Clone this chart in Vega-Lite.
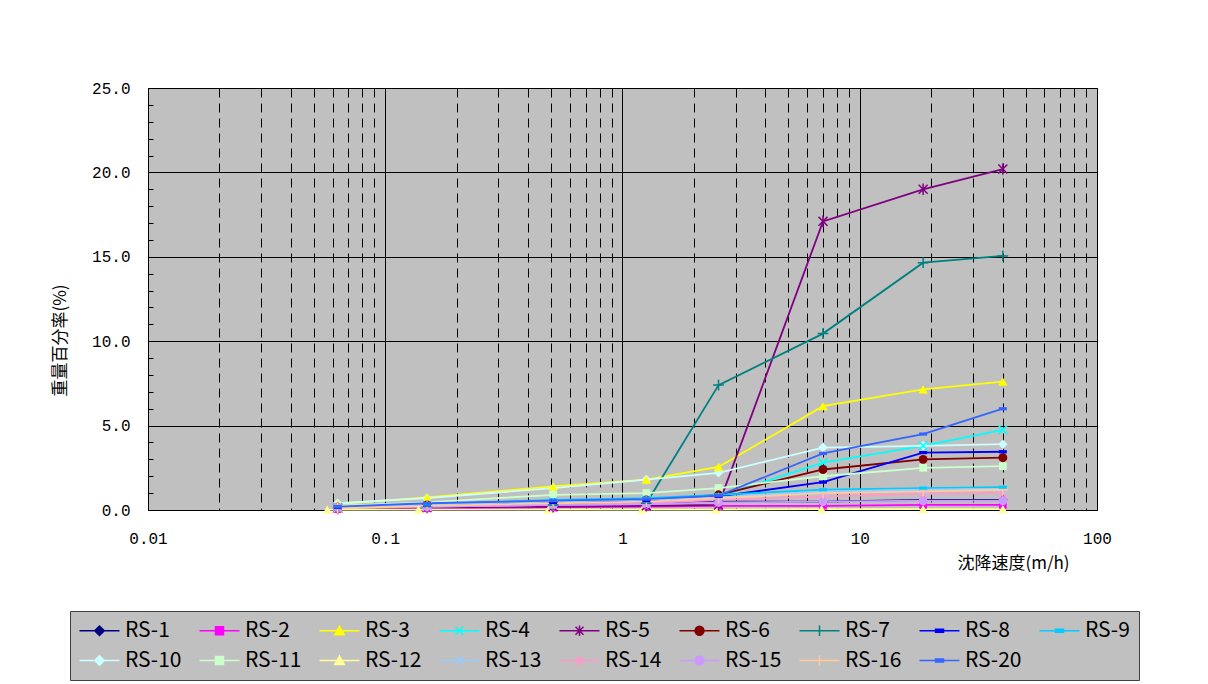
{
  "$schema": "https://vega.github.io/schema/vega-lite/v6.json",
  "width": 949,
  "height": 422,
  "autosize": "none",
  "padding": {"left": 148, "top": 88, "right": 111, "bottom": 174},
  "background": "#FFFFFF",
  "config": {
    "font": "Noto Sans CJK JP",
    "view": {"fill": "#C0C0C0", "stroke": "#000000", "strokeWidth": 1},
    "legend": {
      "title": null, "orient": "none", "legendX": -78, "legendY": 523,
      "direction": "horizontal",
      "columns": 9, "gridAlign": "all", "columnPadding": 14, "rowPadding": 8,
      "padding": 9, "fillColor": "#C0C0C0", "strokeColor": "#404040",
      "labelFont": "Noto Sans CJK JP", "labelFontSize": 21, "labelColor": "#000000",
      "labelOffset": 25, "symbolSize": 64, "symbolStrokeWidth": 1.5, "symbolOpacity": 1
    }
  },
  "data": {"values": [
    {"s":"RS-1","v":0.063,"w":0.1},{"s":"RS-1","v":0.15,"w":0.2},{"s":"RS-1","v":0.51,"w":0.35},{"s":"RS-1","v":1.26,"w":0.4},{"s":"RS-1","v":2.54,"w":0.5},{"s":"RS-1","v":7.0,"w":0.5},{"s":"RS-1","v":18.5,"w":0.6},{"s":"RS-1","v":40.1,"w":0.6},
    {"s":"RS-2","v":0.063,"w":0.05},{"s":"RS-2","v":0.15,"w":0.1},{"s":"RS-2","v":0.51,"w":0.15},{"s":"RS-2","v":1.26,"w":0.2},{"s":"RS-2","v":2.54,"w":0.25},{"s":"RS-2","v":7.0,"w":0.25},{"s":"RS-2","v":18.5,"w":0.3},{"s":"RS-2","v":40.1,"w":0.3},
    {"s":"RS-3","v":0.063,"w":0.35},{"s":"RS-3","v":0.15,"w":0.75},{"s":"RS-3","v":0.51,"w":1.4},{"s":"RS-3","v":1.26,"w":1.8},{"s":"RS-3","v":2.54,"w":2.55},{"s":"RS-3","v":7.0,"w":6.15},{"s":"RS-3","v":18.5,"w":7.15},{"s":"RS-3","v":40.1,"w":7.6},
    {"s":"RS-4","v":0.063,"w":0.15},{"s":"RS-4","v":0.15,"w":0.3},{"s":"RS-4","v":0.51,"w":0.5},{"s":"RS-4","v":1.26,"w":0.6},{"s":"RS-4","v":2.54,"w":0.8},{"s":"RS-4","v":7.0,"w":2.8},{"s":"RS-4","v":18.5,"w":3.8},{"s":"RS-4","v":40.1,"w":4.75},
    {"s":"RS-5","v":0.063,"w":0.1},{"s":"RS-5","v":0.15,"w":0.15},{"s":"RS-5","v":0.51,"w":0.2},{"s":"RS-5","v":1.26,"w":0.25},{"s":"RS-5","v":2.54,"w":0.3},{"s":"RS-5","v":7.0,"w":17.1},{"s":"RS-5","v":18.5,"w":19.0},{"s":"RS-5","v":40.1,"w":20.2},
    {"s":"RS-6","v":0.063,"w":0.15},{"s":"RS-6","v":0.15,"w":0.3},{"s":"RS-6","v":0.51,"w":0.45},{"s":"RS-6","v":1.26,"w":0.6},{"s":"RS-6","v":2.54,"w":0.9},{"s":"RS-6","v":7.0,"w":2.4},{"s":"RS-6","v":18.5,"w":3.0},{"s":"RS-6","v":40.1,"w":3.1},
    {"s":"RS-7","v":0.063,"w":0.1},{"s":"RS-7","v":0.15,"w":0.2},{"s":"RS-7","v":0.51,"w":0.3},{"s":"RS-7","v":1.26,"w":0.4},{"s":"RS-7","v":2.54,"w":7.4},{"s":"RS-7","v":7.0,"w":10.45},{"s":"RS-7","v":18.5,"w":14.65},{"s":"RS-7","v":40.1,"w":15.05},
    {"s":"RS-8","v":0.063,"w":0.15},{"s":"RS-8","v":0.15,"w":0.3},{"s":"RS-8","v":0.51,"w":0.45},{"s":"RS-8","v":1.26,"w":0.55},{"s":"RS-8","v":2.54,"w":0.8},{"s":"RS-8","v":7.0,"w":1.65},{"s":"RS-8","v":18.5,"w":3.4},{"s":"RS-8","v":40.1,"w":3.45},
    {"s":"RS-9","v":0.063,"w":0.2},{"s":"RS-9","v":0.15,"w":0.35},{"s":"RS-9","v":0.51,"w":0.6},{"s":"RS-9","v":1.26,"w":0.7},{"s":"RS-9","v":2.54,"w":0.9},{"s":"RS-9","v":7.0,"w":1.2},{"s":"RS-9","v":18.5,"w":1.3},{"s":"RS-9","v":40.1,"w":1.35},
    {"s":"RS-10","v":0.063,"w":0.4},{"s":"RS-10","v":0.15,"w":0.7},{"s":"RS-10","v":0.51,"w":1.3},{"s":"RS-10","v":1.26,"w":1.8},{"s":"RS-10","v":2.54,"w":2.2},{"s":"RS-10","v":7.0,"w":3.7},{"s":"RS-10","v":18.5,"w":3.8},{"s":"RS-10","v":40.1,"w":3.9},
    {"s":"RS-11","v":0.063,"w":0.25},{"s":"RS-11","v":0.15,"w":0.45},{"s":"RS-11","v":0.51,"w":0.9},{"s":"RS-11","v":1.26,"w":1.0},{"s":"RS-11","v":2.54,"w":1.3},{"s":"RS-11","v":7.0,"w":2.0},{"s":"RS-11","v":18.5,"w":2.5},{"s":"RS-11","v":40.1,"w":2.6},
    {"s":"RS-12","v":0.057,"w":0.02},{"s":"RS-12","v":0.138,"w":0.02},{"s":"RS-12","v":0.487,"w":0.02},{"s":"RS-12","v":1.21,"w":0.02},{"s":"RS-12","v":2.48,"w":0.02},{"s":"RS-12","v":6.9,"w":0.05},{"s":"RS-12","v":18.5,"w":0.05},{"s":"RS-12","v":40.1,"w":0.05},
    {"s":"RS-13","v":0.063,"w":0.15},{"s":"RS-13","v":0.15,"w":0.3},{"s":"RS-13","v":0.51,"w":0.5},{"s":"RS-13","v":1.26,"w":0.6},{"s":"RS-13","v":2.54,"w":0.75},{"s":"RS-13","v":7.0,"w":1.1},{"s":"RS-13","v":18.5,"w":1.2},{"s":"RS-13","v":40.1,"w":1.25},
    {"s":"RS-14","v":0.063,"w":0.1},{"s":"RS-14","v":0.15,"w":0.2},{"s":"RS-14","v":0.51,"w":0.3},{"s":"RS-14","v":1.26,"w":0.4},{"s":"RS-14","v":2.54,"w":0.6},{"s":"RS-14","v":7.0,"w":0.8},{"s":"RS-14","v":18.5,"w":0.95},{"s":"RS-14","v":40.1,"w":1.0},
    {"s":"RS-15","v":0.063,"w":0.15},{"s":"RS-15","v":0.15,"w":0.2},{"s":"RS-15","v":0.51,"w":0.3},{"s":"RS-15","v":1.26,"w":0.35},{"s":"RS-15","v":2.54,"w":0.45},{"s":"RS-15","v":7.0,"w":0.5},{"s":"RS-15","v":18.5,"w":0.55},{"s":"RS-15","v":40.1,"w":0.55},
    {"s":"RS-16","v":0.063,"w":0.1},{"s":"RS-16","v":0.15,"w":0.25},{"s":"RS-16","v":0.51,"w":0.4},{"s":"RS-16","v":1.26,"w":0.5},{"s":"RS-16","v":2.54,"w":0.7},{"s":"RS-16","v":7.0,"w":1.0},{"s":"RS-16","v":18.5,"w":1.1},{"s":"RS-16","v":40.1,"w":1.2},
    {"s":"RS-20","v":0.063,"w":0.2},{"s":"RS-20","v":0.15,"w":0.4},{"s":"RS-20","v":0.51,"w":0.55},{"s":"RS-20","v":1.26,"w":0.65},{"s":"RS-20","v":2.54,"w":0.85},{"s":"RS-20","v":7.0,"w":3.35},{"s":"RS-20","v":18.5,"w":4.5},{"s":"RS-20","v":40.1,"w":6.0}
  ]},
  "encoding": {
    "x": {
      "field": "v", "type": "quantitative",
      "scale": {"type": "log", "domain": [0.01, 100], "nice": false},
      "axis": {
        "values": [0.01,0.02,0.03,0.04,0.05,0.06,0.07,0.08,0.09,0.1,0.2,0.3,0.4,0.5,0.6,0.7,0.8,0.9,1,2,3,4,5,6,7,8,9,10,20,30,40,50,60,70,80,90,100],
        "labelExpr": "(datum.value == 0.01 || datum.value == 0.1 || datum.value == 1 || datum.value == 10 || datum.value == 100) ? format(datum.value, '~g') : ''",
        "grid": true,
        "gridColor": "#000000",
        "gridWidth": 1,
        "gridDash": {"condition": {"test": "datum.value == 0.01 || datum.value == 0.1 || datum.value == 1 || datum.value == 10 || datum.value == 100", "value": []}, "value": [9, 6]},
        "ticks": false,
        "domain": false,
        "labelPadding": 20,
        "labelFont": "Liberation Mono",
        "labelFontSize": 16,
        "labelColor": "#000000",
        "labelFlush": false,
        "title": "沈降速度(m/h)",
        "titleFont": "Noto Sans CJK JP",
        "titleFontSize": 17,
        "titleFontWeight": "normal",
        "titleColor": "#000000",
        "titleX": 865,
        "titleY": 53,
        "titleAlign": "center",
        "titleBaseline": "middle"
      }
    },
    "y": {
      "field": "w", "type": "quantitative",
      "scale": {"domain": [0, 25], "nice": false},
      "axis": {
        "values": [0,1,2,3,4,5,6,7,8,9,10,11,12,13,14,15,16,17,18,19,20,21,22,23,24,25],
        "labelExpr": "datum.value % 5 === 0 ? format(datum.value, '.1f') : ''",
        "grid": true,
        "gridColor": "#000000",
        "gridWidth": 1,
        "gridOpacity": {"condition": {"test": "datum.value % 5 === 0", "value": 1}, "value": 0},
        "ticks": true,
        "tickSize": -5,
        "tickColor": "#000000",
        "domain": false,
        "labelPadding": 23,
        "labelFont": "Liberation Mono",
        "labelFontSize": 16,
        "labelColor": "#000000",
        "labelFlush": false,
        "title": "重量百分率(%)",
        "titleFont": "Noto Sans CJK JP",
        "titleFontSize": 17,
        "titleFontWeight": "normal",
        "titleColor": "#000000",
        "titleX": -88,
        "titleY": 252,
        "titleAlign": "center",
        "titleBaseline": "middle",
        "titleAngle": -90
      }
    },
    "color": {
      "field": "s", "type": "nominal",
      "scale": {
        "domain": ["RS-1","RS-2","RS-3","RS-4","RS-5","RS-6","RS-7","RS-8","RS-9","RS-10","RS-11","RS-12","RS-13","RS-14","RS-15","RS-16","RS-20"],
        "range": ["#000080","#FF00FF","#FFFF00","#00FFFF","#800080","#800000","#008080","#0000FF","#00CCFF","#CCFFFF","#CCFFCC","#FFFF99","#99CCFF","#FF99CC","#CC99FF","#FFCC99","#3366FF"]
      },
      "legend": {
        "encode": {"symbols": {"update": {"fill": {"scale": "color", "field": "value"}, "stroke": {"scale": "color", "field": "value"}, "opacity": {"value": 1}, "strokeWidth": {"value": 1.5}}}}
      }
    }
  },
  "layer": [
    {"mark": {"type": "line", "strokeWidth": 1.8}},
    {"transform": [{"filter": {"field": "s", "oneOf": ["RS-1","RS-10"]}}],
     "mark": {"type": "point", "shape": "diamond", "filled": true, "size": 90, "opacity": 1}},
    {"transform": [{"filter": {"field": "s", "oneOf": ["RS-2","RS-11"]}}],
     "mark": {"type": "point", "shape": "square", "filled": true, "size": 60, "opacity": 1}},
    {"transform": [{"filter": {"field": "s", "oneOf": ["RS-3","RS-12"]}}],
     "mark": {"type": "point", "shape": "triangle-up", "filled": true, "size": 90, "opacity": 1}},
    {"transform": [{"filter": {"field": "s", "oneOf": ["RS-4","RS-13"]}}],
     "mark": {"type": "point", "shape": "M-1,-1L1,1M-1,1L1,-1", "filled": false, "size": 80, "strokeWidth": 1.5, "opacity": 1}},
    {"transform": [{"filter": {"field": "s", "oneOf": ["RS-5","RS-14"]}}],
     "mark": {"type": "point", "shape": "M-1,-1L1,1M-1,1L1,-1M0,-1.3V1.3", "filled": false, "size": 80, "strokeWidth": 1.5, "opacity": 1}},
    {"transform": [{"filter": {"field": "s", "oneOf": ["RS-6","RS-15"]}}],
     "mark": {"type": "point", "shape": "circle", "filled": true, "size": 80, "opacity": 1}},
    {"transform": [{"filter": {"field": "s", "oneOf": ["RS-7","RS-16"]}}],
     "mark": {"type": "point", "shape": "M0,-1.2V1.2M-1.2,0H1.2", "filled": false, "size": 80, "strokeWidth": 1.5, "opacity": 1}},
    {"transform": [{"filter": {"field": "s", "oneOf": ["RS-8","RS-9","RS-20"]}}],
     "mark": {"type": "point", "shape": "M-1,-0.4H1V0.4H-1Z", "filled": true, "size": 64, "opacity": 1}},
    {
      "mark": {"type": "point", "filled": false, "size": 64, "strokeWidth": 1.5, "opacity": 0},
      "encoding": {
        "shape": {
          "field": "s", "type": "nominal",
          "scale": {
            "domain": ["RS-1","RS-2","RS-3","RS-4","RS-5","RS-6","RS-7","RS-8","RS-9","RS-10","RS-11","RS-12","RS-13","RS-14","RS-15","RS-16","RS-20"],
            "range": [
              "M-2.5,0H7.5M2.5,-1.2L3.7,0L2.5,1.2L1.3,0Z",
              "M-2.5,0H7.5M1.5,-1H3.5V1H1.5Z",
              "M-2.5,0H7.5M2.5,-1.1L3.7,1L1.3,1Z",
              "M-2.5,0H7.5M1.5,-1L3.5,1M1.5,1L3.5,-1",
              "M-2.5,0H7.5M1.5,-1L3.5,1M1.5,1L3.5,-1M2.5,-1.3V1.3",
              "M-2.5,0H7.5M3.6,0A1.1,1.1 0 1,1 1.4,0A1.1,1.1 0 1,1 3.6,0Z",
              "M-2.5,0H7.5M2.5,-1.3V1.3",
              "M-2.5,0H7.5M1.5,-0.4H3.5V0.4H1.5Z",
              "M-2.5,0H7.5M1.5,-0.4H3.5V0.4H1.5Z",
              "M-2.5,0H7.5M2.5,-1.2L3.7,0L2.5,1.2L1.3,0Z",
              "M-2.5,0H7.5M1.5,-1H3.5V1H1.5Z",
              "M-2.5,0H7.5M2.5,-1.1L3.7,1L1.3,1Z",
              "M-2.5,0H7.5M1.5,-1L3.5,1M1.5,1L3.5,-1",
              "M-2.5,0H7.5M1.5,-1L3.5,1M1.5,1L3.5,-1M2.5,-1.3V1.3",
              "M-2.5,0H7.5M3.6,0A1.1,1.1 0 1,1 1.4,0A1.1,1.1 0 1,1 3.6,0Z",
              "M-2.5,0H7.5M2.5,-1.3V1.3",
              "M-2.5,0H7.5M1.5,-0.4H3.5V0.4H1.5Z"
            ]
          },
          "legend": {
            "encode": {"symbols": {"update": {"fill": {"scale": "color", "field": "value"}, "stroke": {"scale": "color", "field": "value"}, "opacity": {"value": 1}, "strokeWidth": {"value": 1.5}}}}
          }
        }
      }
    }
  ]
}
